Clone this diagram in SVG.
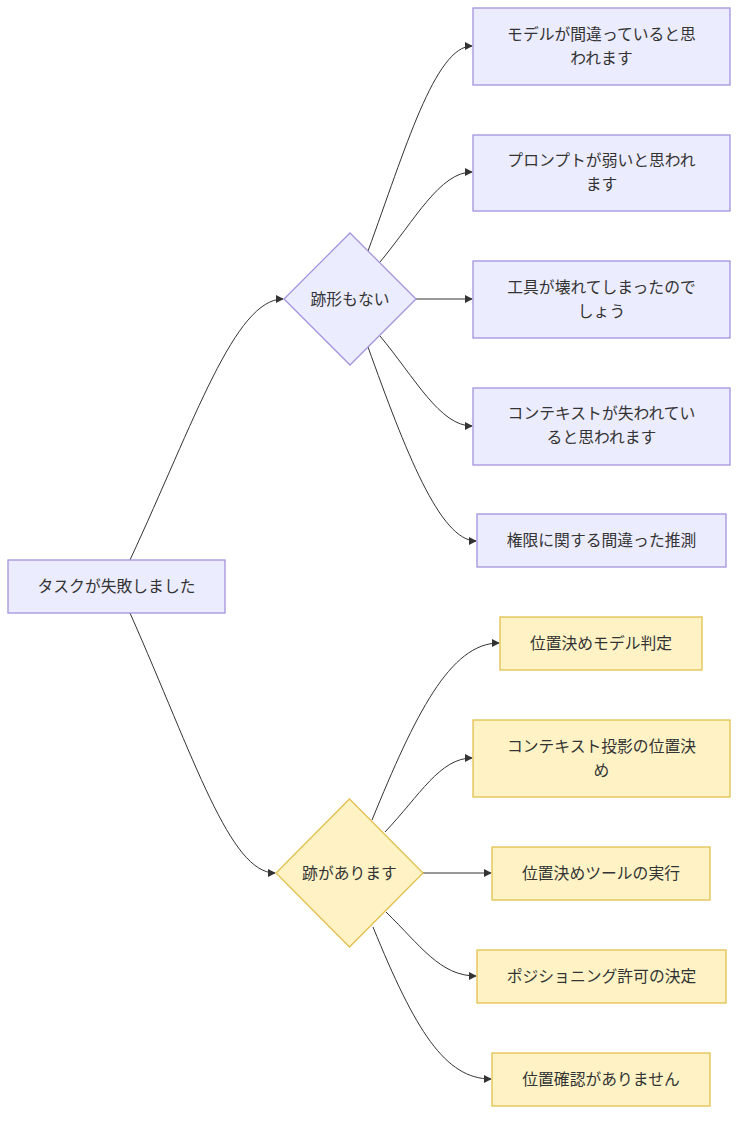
<svg xmlns="http://www.w3.org/2000/svg" width="746" height="1126" viewBox="0 0 746 1126">
<style>
.p{fill:#ececff;stroke:#a393dc;stroke-width:1.3}
.y{fill:#fff3c6;stroke:#e2c04e;stroke-width:1.3}
.t{font-family:"Noto Sans CJK JP","Noto Sans",sans-serif;font-size:15.8px;fill:#333;text-anchor:middle;dominant-baseline:central}
.e{fill:none;stroke:#333;stroke-width:1}
</style>
<defs>
<marker id="a" viewBox="0 0 10 10" refX="9" refY="5" markerWidth="8" markerHeight="8" markerUnits="userSpaceOnUse" orient="auto">
<path d="M0,0 L10,5 L0,10 z" fill="#333"/>
</marker>
</defs>
<rect width="746" height="1126" fill="#fff"/>
<g id="edges">
<path class="e" marker-end="url(#a)" d="M130,560 C195,420 235,299 283,299"/>
<path class="e" marker-end="url(#a)" d="M130,613 C195,760 230,873 275,873"/>
<path class="e" marker-end="url(#a)" d="M368,251 C405,150 435,46 472,46"/>
<path class="e" marker-end="url(#a)" d="M380,262 C415,220 440,172 472,172"/>
<path class="e" marker-end="url(#a)" d="M416,299 L472,299"/>
<path class="e" marker-end="url(#a)" d="M380,336 C415,378 440,426 472,426"/>
<path class="e" marker-end="url(#a)" d="M368,347 C405,450 440,541 476,541"/>
<path class="e" marker-end="url(#a)" d="M372,820 C415,715 450,643 499,643"/>
<path class="e" marker-end="url(#a)" d="M385,832 C420,795 440,758 472,758"/>
<path class="e" marker-end="url(#a)" d="M423,873 L491,873"/>
<path class="e" marker-end="url(#a)" d="M386,912 C420,945 440,976 476,976"/>
<path class="e" marker-end="url(#a)" d="M373,927 C415,1030 445,1079 491,1079"/>
</g>
<g id="root"><rect class="p" x="8" y="560" width="217" height="53"/><text class="t" x="116.5" y="585.5">タスクが失敗しました</text></g>
<g id="d1"><polygon class="p" points="350,233 416,299 350,365 284,299"/><text class="t" x="350" y="298">跡形もない</text></g>
<g id="d2"><polygon class="y" points="349.5,799 423,873 349.5,947 276,873"/><text class="t" x="349.5" y="872">跡があります</text></g>
<g id="n1"><rect class="p" x="473" y="8" width="257" height="77"/><text class="t" x="601.5" y="33">モデルが間違っていると思</text><text class="t" x="601.5" y="57">われます</text></g>
<g id="n2"><rect class="p" x="473" y="135" width="257" height="76"/><text class="t" x="601.5" y="159">プロンプトが弱いと思われ</text><text class="t" x="601.5" y="183">ます</text></g>
<g id="n3"><rect class="p" x="473" y="261" width="257" height="77"/><text class="t" x="601.5" y="286">工具が壊れてしまったので</text><text class="t" x="601.5" y="310">しょう</text></g>
<g id="n4"><rect class="p" x="473" y="388" width="257" height="77"/><text class="t" x="601.5" y="412">コンテキストが失われてい</text><text class="t" x="601.5" y="436">ると思われます</text></g>
<g id="n5"><rect class="p" x="477" y="514" width="249" height="53"/><text class="t" x="601.5" y="539.5">権限に関する間違った推測</text></g>
<g id="y1"><rect class="y" x="500" y="617" width="202" height="53"/><text class="t" x="601" y="642.5">位置決めモデル判定</text></g>
<g id="y2"><rect class="y" x="473" y="720" width="257" height="77"/><text class="t" x="601.5" y="745">コンテキスト投影の位置決</text><text class="t" x="601.5" y="769">め</text></g>
<g id="y3"><rect class="y" x="492" y="847" width="218" height="53"/><text class="t" x="601" y="872">位置決めツールの実行</text></g>
<g id="y4"><rect class="y" x="477" y="950" width="249" height="53"/><text class="t" x="601.5" y="975">ポジショニング許可の決定</text></g>
<g id="y5"><rect class="y" x="492" y="1053" width="218" height="53"/><text class="t" x="601" y="1078">位置確認がありません</text></g>
</svg>
